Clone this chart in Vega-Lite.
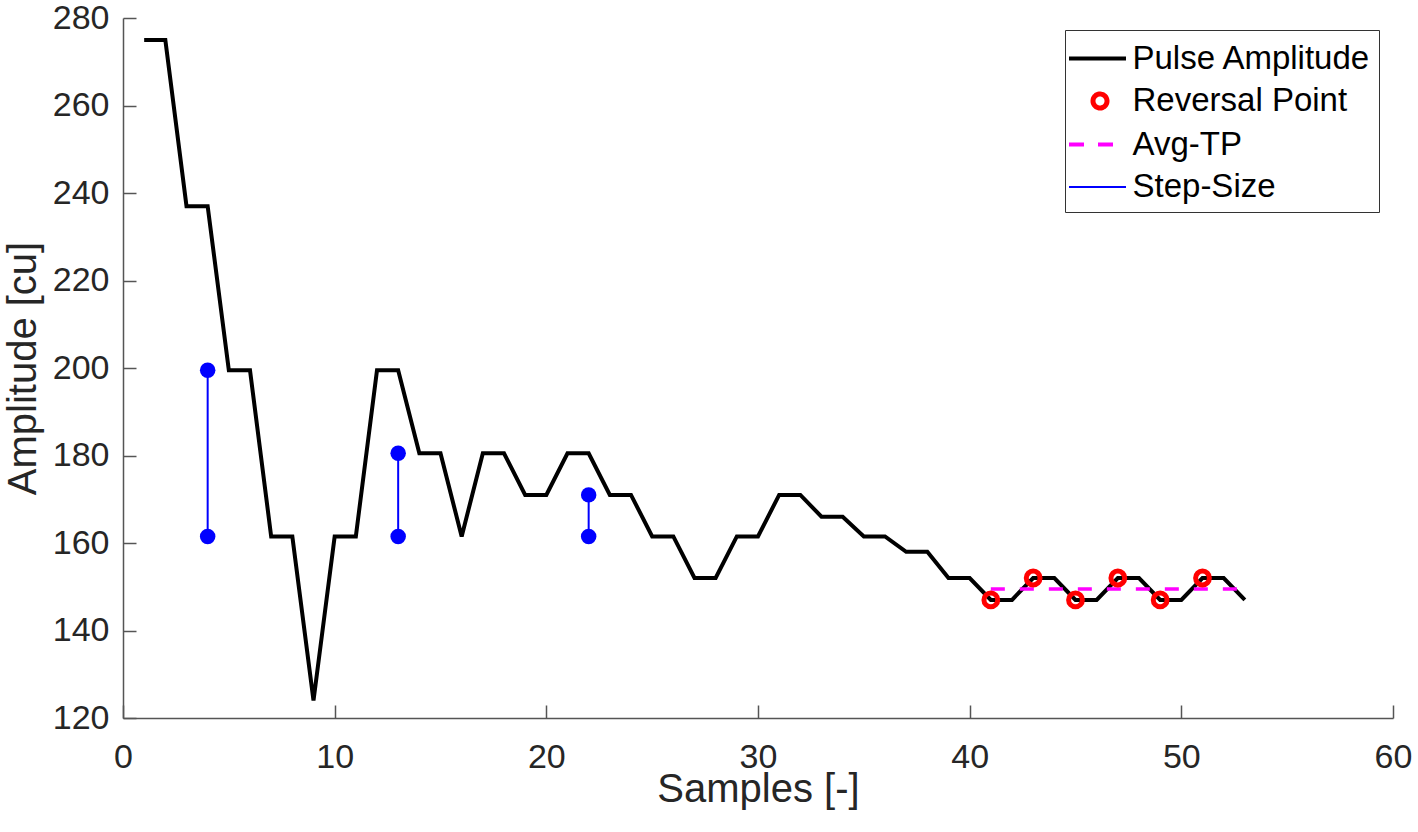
{
  "$schema": "https://vega.github.io/schema/vega-lite/v6.json",
  "autosize": {"type": "none"},
  "padding": {"left": 123, "top": 18, "right": 25, "bottom": 114},
  "width": 1270,
  "height": 700,
  "background": "white",
  "config": {
    "view": {"stroke": null},
    "font": "Liberation Sans",
    "axis": {
      "grid": false,
      "domainColor": "#555555",
      "domainWidth": 1.5,
      "tickColor": "#555555",
      "tickWidth": 1.5,
      "tickSize": -13,
      "labelFlush": false,
      "labelFont": "Liberation Sans",
      "labelFontSize": 34,
      "labelColor": "#262626",
      "titleFont": "Liberation Sans",
      "titleFontSize": 40,
      "titleFontWeight": "normal",
      "titleColor": "#262626"
    }
  },
  "datasets": {
    "pulse": [
      {"sample": 1, "amp": 275, "series": "Pulse Amplitude"},
      {"sample": 2, "amp": 275, "series": "Pulse Amplitude"},
      {"sample": 3, "amp": 237, "series": "Pulse Amplitude"},
      {"sample": 4, "amp": 237, "series": "Pulse Amplitude"},
      {"sample": 5, "amp": 199.5, "series": "Pulse Amplitude"},
      {"sample": 6, "amp": 199.5, "series": "Pulse Amplitude"},
      {"sample": 7, "amp": 161.5, "series": "Pulse Amplitude"},
      {"sample": 8, "amp": 161.5, "series": "Pulse Amplitude"},
      {"sample": 9, "amp": 124, "series": "Pulse Amplitude"},
      {"sample": 10, "amp": 161.5, "series": "Pulse Amplitude"},
      {"sample": 11, "amp": 161.5, "series": "Pulse Amplitude"},
      {"sample": 12, "amp": 199.5, "series": "Pulse Amplitude"},
      {"sample": 13, "amp": 199.5, "series": "Pulse Amplitude"},
      {"sample": 14, "amp": 180.5, "series": "Pulse Amplitude"},
      {"sample": 15, "amp": 180.5, "series": "Pulse Amplitude"},
      {"sample": 16, "amp": 161.5, "series": "Pulse Amplitude"},
      {"sample": 17, "amp": 180.5, "series": "Pulse Amplitude"},
      {"sample": 18, "amp": 180.5, "series": "Pulse Amplitude"},
      {"sample": 19, "amp": 171, "series": "Pulse Amplitude"},
      {"sample": 20, "amp": 171, "series": "Pulse Amplitude"},
      {"sample": 21, "amp": 180.5, "series": "Pulse Amplitude"},
      {"sample": 22, "amp": 180.5, "series": "Pulse Amplitude"},
      {"sample": 23, "amp": 171, "series": "Pulse Amplitude"},
      {"sample": 24, "amp": 171, "series": "Pulse Amplitude"},
      {"sample": 25, "amp": 161.5, "series": "Pulse Amplitude"},
      {"sample": 26, "amp": 161.5, "series": "Pulse Amplitude"},
      {"sample": 27, "amp": 152, "series": "Pulse Amplitude"},
      {"sample": 28, "amp": 152, "series": "Pulse Amplitude"},
      {"sample": 29, "amp": 161.5, "series": "Pulse Amplitude"},
      {"sample": 30, "amp": 161.5, "series": "Pulse Amplitude"},
      {"sample": 31, "amp": 171, "series": "Pulse Amplitude"},
      {"sample": 32, "amp": 171, "series": "Pulse Amplitude"},
      {"sample": 33, "amp": 166, "series": "Pulse Amplitude"},
      {"sample": 34, "amp": 166, "series": "Pulse Amplitude"},
      {"sample": 35, "amp": 161.5, "series": "Pulse Amplitude"},
      {"sample": 36, "amp": 161.5, "series": "Pulse Amplitude"},
      {"sample": 37, "amp": 158, "series": "Pulse Amplitude"},
      {"sample": 38, "amp": 158, "series": "Pulse Amplitude"},
      {"sample": 39, "amp": 152, "series": "Pulse Amplitude"},
      {"sample": 40, "amp": 152, "series": "Pulse Amplitude"},
      {"sample": 41, "amp": 147, "series": "Pulse Amplitude"},
      {"sample": 42, "amp": 147, "series": "Pulse Amplitude"},
      {"sample": 43, "amp": 152, "series": "Pulse Amplitude"},
      {"sample": 44, "amp": 152, "series": "Pulse Amplitude"},
      {"sample": 45, "amp": 147, "series": "Pulse Amplitude"},
      {"sample": 46, "amp": 147, "series": "Pulse Amplitude"},
      {"sample": 47, "amp": 152, "series": "Pulse Amplitude"},
      {"sample": 48, "amp": 152, "series": "Pulse Amplitude"},
      {"sample": 49, "amp": 147, "series": "Pulse Amplitude"},
      {"sample": 50, "amp": 147, "series": "Pulse Amplitude"},
      {"sample": 51, "amp": 152, "series": "Pulse Amplitude"},
      {"sample": 52, "amp": 152, "series": "Pulse Amplitude"},
      {"sample": 53, "amp": 147, "series": "Pulse Amplitude"}
    ],
    "reversal": [
      {"sample": 41, "amp": 147},
      {"sample": 43, "amp": 152},
      {"sample": 45, "amp": 147},
      {"sample": 47, "amp": 152},
      {"sample": 49, "amp": 147},
      {"sample": 51, "amp": 152}
    ],
    "avgtp": [
      {"sample": 41, "amp": 149.5},
      {"sample": 53, "amp": 149.5}
    ],
    "steps": [
      {"sample": 4, "lo": 161.5, "hi": 199.5},
      {"sample": 13, "lo": 161.5, "hi": 180.5},
      {"sample": 22, "lo": 161.5, "hi": 171}
    ],
    "stepdots": [
      {"sample": 4, "amp": 161.5},
      {"sample": 4, "amp": 199.5},
      {"sample": 13, "amp": 161.5},
      {"sample": 13, "amp": 180.5},
      {"sample": 22, "amp": 161.5},
      {"sample": 22, "amp": 171}
    ]
  },
  "encoding": {
    "x": {
      "field": "sample",
      "type": "quantitative",
      "title": "Samples [-]",
      "scale": {"domain": [0, 60], "nice": false, "zero": false},
      "axis": {"values": [0, 10, 20, 30, 40, 50, 60], "labelPadding": 35, "titlePadding": -5}
    },
    "y": {
      "field": "amp",
      "type": "quantitative",
      "title": "Amplitude [cu]",
      "scale": {"domain": [120, 280], "nice": false, "zero": false},
      "axis": {"values": [120, 140, 160, 180, 200, 220, 240, 260, 280], "labelPadding": 27, "titlePadding": 9}
    }
  },
  "layer": [
    {
      "data": {"name": "steps"},
      "mark": {"type": "rule", "color": "#0000ff", "strokeWidth": 2},
      "encoding": {
        "y": {"field": "lo", "type": "quantitative"},
        "y2": {"field": "hi"}
      }
    },
    {
      "data": {"name": "stepdots"},
      "mark": {"type": "point", "filled": true, "color": "#0000ff", "size": 240, "opacity": 1, "shape": "circle"}
    },
    {
      "data": {"name": "pulse"},
      "mark": {"type": "line", "strokeWidth": 4, "strokeJoin": "miter"},
      "encoding": {
        "color": {
          "field": "series",
          "type": "nominal",
          "scale": {
            "domain": ["Pulse Amplitude", "Reversal Point", "Avg-TP", "Step-Size"],
            "range": ["#000000", "#ff0000", "#ff00ff", "#0000ff"]
          },
          "legend": {
            "title": null,
            "orient": "none",
            "direction": "vertical",
            "legendX": 942,
            "legendY": 12,
            "padding": 7.5,
            "rowPadding": 4.5,
            "symbolSize": 400,
            "labelOffset": 27,
            "labelFont": "Liberation Sans",
            "labelFontSize": 33,
            "labelColor": "#000000",
            "labelLimit": 0,
            "strokeColor": "#333333",
            "fillColor": "#ffffff",
            "encode": {
              "labels": {
                "update": {
                  "dy": {"value": 4.5}
                }
              },
              "symbols": {
                "update": {
                  "shape": {"signal": "datum.value === 'Reversal Point' ? 'M1.8,0.45A0.7,0.7 0 1,1 0.4,0.45A0.7,0.7 0 1,1 1.8,0.45' : 'M-2,0.45H3.7'"},
                  "size": {"value": 400},
                  "fill": {"value": "transparent"},
                  "stroke": {"signal": "datum.value === 'Pulse Amplitude' ? '#000000' : datum.value === 'Reversal Point' ? '#ff0000' : datum.value === 'Avg-TP' ? '#ff00ff' : '#0000ff'"},
                  "strokeWidth": {"signal": "datum.value === 'Reversal Point' ? 5 : datum.value === 'Step-Size' ? 2 : 4"},
                  "strokeDash": {"signal": "datum.value === 'Avg-TP' ? [15, 14] : [1, 0]"},
                  "opacity": {"value": 1}
                }
              }
            }
          }
        }
      }
    },
    {
      "data": {"name": "avgtp"},
      "mark": {"type": "line", "color": "#ff00ff", "strokeWidth": 3.5, "strokeDash": [14, 15]}
    },
    {
      "data": {"name": "reversal"},
      "mark": {"type": "point", "filled": false, "color": "#ff0000", "strokeWidth": 5, "size": 190, "opacity": 1, "shape": "circle"}
    }
  ]
}
